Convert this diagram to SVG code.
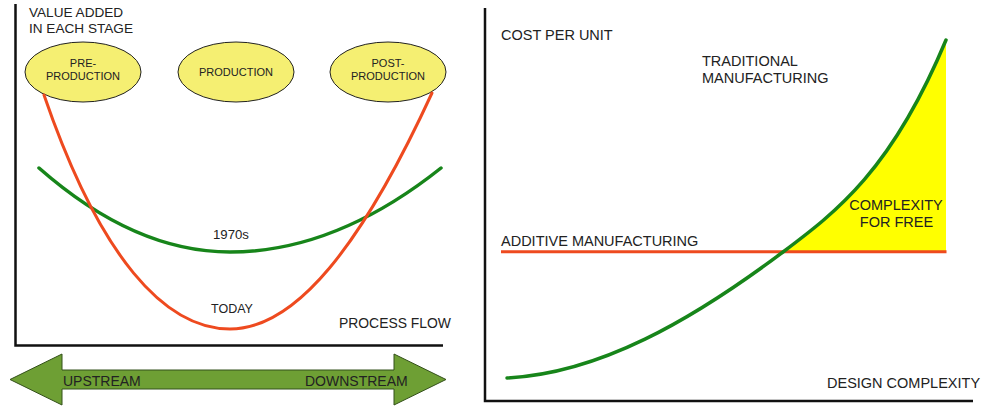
<svg xmlns="http://www.w3.org/2000/svg" width="983" height="410" viewBox="0 0 983 410">
<style>
text{font-family:"Liberation Sans",Arial,sans-serif;fill:#222}
.ax{stroke:#111;stroke-width:2.5;fill:none}
.red{stroke:#ee4a1f;stroke-width:3;fill:none;stroke-linecap:round}
.grn{stroke:#17851a;stroke-width:3.5;fill:none;stroke-linecap:round}
.stage{fill:#f5ef72;stroke:#222;stroke-width:1}
.st{font-size:11px;text-anchor:middle}
.l{font-size:13.6px}
.r{font-size:14.5px}
</style>
<rect width="983" height="410" fill="#fff"/>
<g id="left-chart">
<path class="ax" d="M15.5,4 V345.5 H443"/>
<text class="l" x="29" y="17">VALUE ADDED</text>
<text class="l" x="29" y="33">IN EACH STAGE</text>
<g id="pre-production"><ellipse class="stage" cx="83" cy="72" rx="58" ry="30"/><text class="st" x="83" y="66.5">PRE-</text><text class="st" x="83" y="80">PRODUCTION</text></g>
<g id="production"><ellipse class="stage" cx="236" cy="72" rx="58" ry="30"/><text class="st" x="236" y="76">PRODUCTION</text></g>
<g id="post-production"><ellipse class="stage" cx="388" cy="72" rx="58" ry="30"/><text class="st" x="388" y="66.5">POST-</text><text class="st" x="388" y="80">PRODUCTION</text></g>
<g id="connectors">
<path class="grn" d="M39,168 Q134.5,252 230,252 Q335.5,252 441,168"/>
<path class="red" d="M44,95 C100,258 165,329 230,329 C296,329 362,245 432,93"/>
</g>
<text x="231" y="239" font-size="13.2" text-anchor="middle">1970s</text>
<text x="232" y="313" font-size="12.5" text-anchor="middle">TODAY</text>
<text x="339" y="328" font-size="13.9">PROCESS FLOW</text>
<g id="flow-arrow">
<path d="M10,379.5 L62,354 L62,370 L394,370 L394,354 L446,379.5 L394,405 L394,389 L62,389 L62,405 Z" fill="#6e9f34" stroke="#33501a" stroke-width="1"/>
<text x="63" y="386" font-size="14">UPSTREAM</text>
<text x="305" y="386" font-size="14">DOWNSTREAM</text>
</g>
</g>
<g id="right-chart">
<path d="M783,252 C837,211.5 892,169.6 946,40 L946,252 Z" fill="#ffff00"/>
<path class="ax" d="M485,8 V401 H973"/>
<line x1="501" y1="251.7" x2="946.5" y2="251.7" stroke="#ee4a1f" stroke-width="3"/>
<path class="grn" d="M507,378 C599,373.4 691,321 783,252 C837,211.5 892,169.6 946,40"/>
<text class="r" x="501" y="40">COST PER UNIT</text>
<text class="r" x="702" y="66">TRADITIONAL</text>
<text class="r" x="702" y="82.5">MANUFACTURING</text>
<text class="r" x="501" y="245.5">ADDITIVE MANUFACTURING</text>
<text class="r" x="896" y="210" text-anchor="middle">COMPLEXITY</text>
<text class="r" x="896.5" y="227" text-anchor="middle">FOR FREE</text>
<text class="r" x="827" y="388">DESIGN COMPLEXITY</text>
</g>
</svg>
